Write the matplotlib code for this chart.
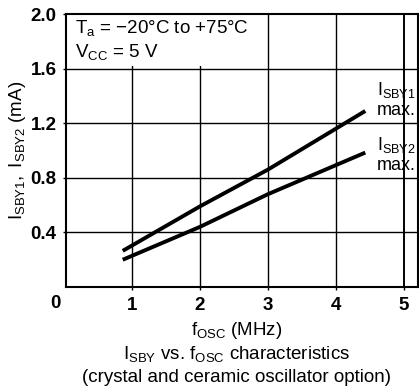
import matplotlib
matplotlib.use("Agg")
import matplotlib.pyplot as plt
from matplotlib.patches import Rectangle

plt.rcParams.update({
    "font.family": "Liberation Sans",
    "mathtext.fontset": "custom",
    "mathtext.rm": "Liberation Sans",
    "mathtext.it": "Liberation Sans",
    "font.size": 13.5,
})

# datos
f_osc = [0.87, 2.0, 3.0, 4.43]
isby1 = [0.265, 0.59, 0.86, 1.29]
isby2 = [0.20, 0.44, 0.68, 0.985]

x_ticks = [1, 2, 3, 4, 5]
y_ticks = [0.4, 0.8, 1.2, 1.6, 2.0]

fig = plt.figure(figsize=(4.19, 3.90), dpi=100)
ax = fig.add_axes([0.158, 0.264, 0.839, 0.700])

ax.set_xlim(0.04, 5.2)
ax.set_ylim(0, 2.0)

for xv in x_ticks:
    lw = 1.4 if xv == 5 else 1.0
    ax.axvline(xv, color="k", lw=lw, zorder=1)
for yv in y_ticks[:-1]:
    ax.axhline(yv, color="k", lw=1.0, zorder=1)

# recuadro blanco para las condiciones
ax.add_patch(Rectangle((0.04, 1.62), 2.9, 0.37, facecolor="white",
                       edgecolor="none", zorder=2))

ax.plot(f_osc, isby1, "k-", lw=2.8, solid_capstyle="butt", zorder=3)
ax.plot(f_osc, isby2, "k-", lw=2.8, solid_capstyle="butt", zorder=3)

for s in ax.spines.values():
    s.set_linewidth(1.5)

ax.set_xticks(x_ticks)
ax.set_yticks(y_ticks)
ax.set_yticklabels(["0.4", "0.8", "1.2", "1.6", "2.0"], fontweight="bold")
ax.set_xticklabels([str(v) for v in x_ticks], fontweight="bold")
ax.tick_params(direction="out", length=2, width=1, pad=5, labelsize=13.5)
ax.text(-0.03, -0.03, "0", transform=ax.transAxes, ha="center", va="top",
        fontsize=13.5, fontweight="bold")

ax.set_ylabel(r"$\mathregular{I_{SBY1},\ I_{SBY2}}$ (mA)", fontsize=13.5, labelpad=2)

ax.text(0.17, 1.90, r"$\mathregular{T_a}$ = −20°C to +75°C", fontsize=13.5,
        va="center", zorder=4)
ax.text(0.17, 1.72, r"$\mathregular{V_{CC}}$ = 5 V", fontsize=13.5,
        va="center", zorder=4)

ax.text(5.17, 1.44, r"$\mathregular{I_{SBY1}}$", ha="right", va="center", fontsize=13)
ax.text(5.17, 1.29, "max.", ha="right", va="center", fontsize=13)
ax.text(5.17, 1.04, r"$\mathregular{I_{SBY2}}$", ha="right", va="center", fontsize=13)
ax.text(5.17, 0.89, "max.", ha="right", va="center", fontsize=13)

fig.text(0.565, 0.152, r"$\mathregular{f_{OSC}}$ (MHz)", ha="center", va="center", fontsize=13.5)
fig.text(0.565, 0.092, r"$\mathregular{I_{SBY}}$ vs. $\mathregular{f_{OSC}}$ characteristics",
         ha="center", va="center", fontsize=13.5)
fig.text(0.565, 0.032, "(crystal and ceramic oscillator option)",
         ha="center", va="center", fontsize=13.5)

fig.savefig("out.png", dpi=100, facecolor="white")
